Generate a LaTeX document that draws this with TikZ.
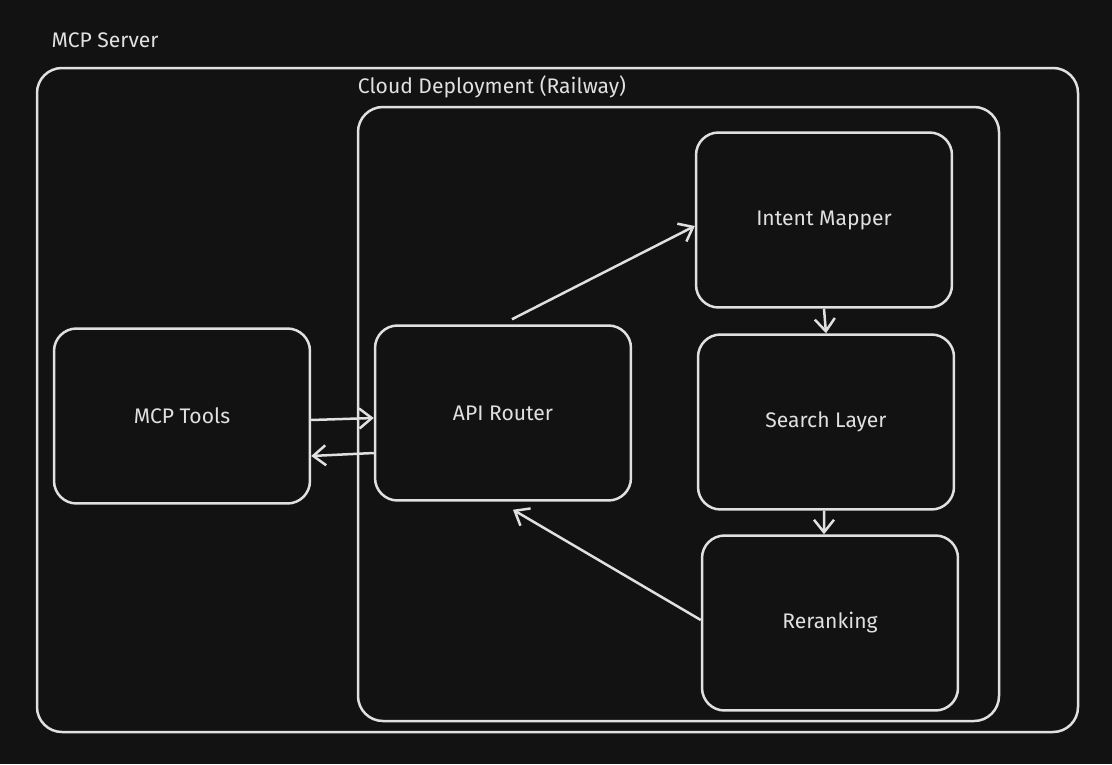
\documentclass[tikz,border=0pt]{standalone}
\usepackage{fontspec}
\setmainfont{Fira Sans}
\usetikzlibrary{positioning}
\usetikzlibrary{arrows.meta}
\definecolor{bgdark}{HTML}{121212}
\definecolor{inkgray}{HTML}{E0E0E0}

\tikzset{
  box/.style={draw=inkgray, line width=0.5mm, rounded corners=0.45cm, minimum width=5.12cm, minimum height=3.5cm, text=inkgray, font=\large},
  frame/.style={draw=inkgray, line width=0.5mm, rounded corners=0.5cm},
  flow/.style={draw=inkgray, line width=0.5mm, -{Straight Barb[length=2.5mm,width=4mm]}},
  tag/.style={text=inkgray, font=\large}
}

\begin{document}
\begin{tikzpicture}[x=0.02cm, y=-0.02cm]

\fill[bgdark] (0,0) rectangle (1112,764);
\useasboundingbox (0,0) rectangle (1112,764);

% frames
\draw[frame] (37,68) rectangle (1078,732);
\draw[frame] (358,107) rectangle (999,721);
\node[tag] (serverlbl) at (105,40) {MCP Server};
\node[tag] (cloudlbl) at (492,87) {Cloud Deployment (Railway)};

% components
\node[box] (tools) at (182,416) {MCP Tools};
\node[box] (router) at (503,413) {API Router};
\node[box] (intent) at (824,220) {Intent Mapper};
\node[box] (search) at (826,422) {Search Layer};
\node[box] (rerank) at (830,623) {Reranking};

% connectors
\draw[flow] ([yshift=-0.08cm]tools.east) -- ([yshift=-0.1cm]router.west);
\draw[flow] ([yshift=-0.8cm]router.west) -- ([yshift=-0.8cm]tools.east);
\draw[flow] ([xshift=0.18cm,yshift=0.1cm]router.north) -- ([yshift=-0.12cm]intent.west);
\draw[flow] (intent.south) -- (search.north);
\draw[flow] ([xshift=-0.04cm]search.south) -- ([xshift=-0.12cm]rerank.north);
\draw[flow] ([yshift=0.06cm]rerank.west) -- ([xshift=0.2cm,yshift=-0.16cm]router.south);

\end{tikzpicture}
\end{document}
